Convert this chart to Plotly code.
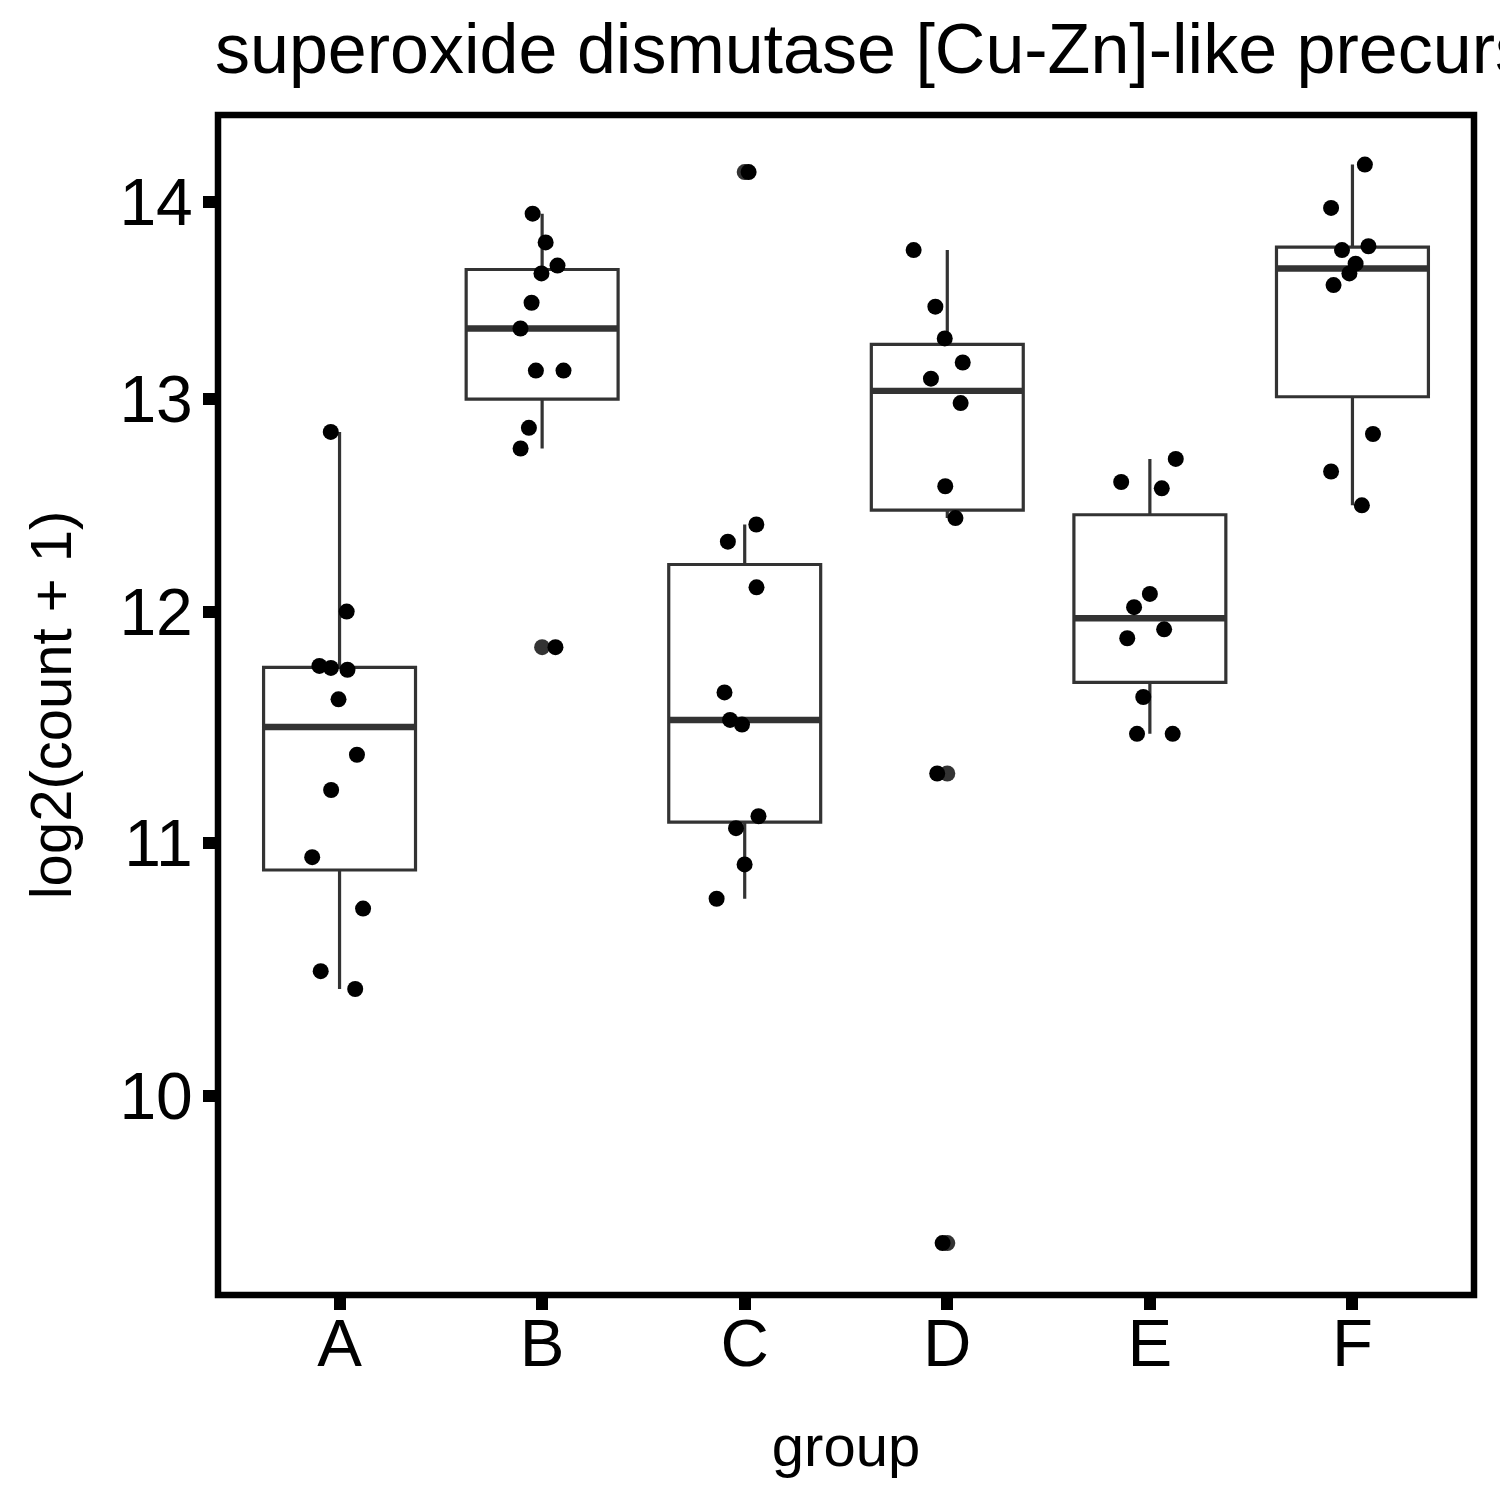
import numpy as np
import plotly.graph_objects as go

# ---- data (log2(count + 1) per sample) ----
categories = ["A", "B", "C", "D", "E", "F"]
group_A = [12.84, 12.00, 11.757, 11.748, 11.74, 11.61, 11.37, 11.22, 10.94, 10.73, 10.48, 10.41]
group_B = [13.94, 13.79, 13.67, 13.63, 13.48, 13.35, 13.14, 13.14, 12.86, 12.76, 11.84]
group_C = [14.16, 12.40, 12.32, 12.11, 11.64, 11.52, 11.50, 11.11, 11.06, 10.91, 10.77]
group_D = [13.75, 13.46, 13.30, 13.18, 13.10, 12.98, 12.58, 12.43, 11.29, 9.46]
group_E = [12.71, 12.60, 12.57, 12.08, 12.02, 11.92, 11.88, 11.62, 11.46, 11.46]
group_F = [14.20, 13.97, 13.77, 13.75, 13.68, 13.63, 13.57, 12.83, 12.65, 12.49]
y_ticks = [10, 11, 12, 13, 14]

groups = [group_A, group_B, group_C, group_D, group_E, group_F]
positions = list(range(len(categories)))

# ---- box statistics on the log10 scale (as ggplot does with a log y scale) ----
q1s, meds, q3s, lfs, ufs = [], [], [], [], []
out_x, out_y = [], []
for i, vals in zip(positions, groups):
    arr = np.array(vals, dtype=float)
    lv = np.log10(arr)
    q1, med, q3 = np.quantile(lv, [0.25, 0.5, 0.75])
    iqr = q3 - q1
    lo, hi = q1 - 1.5 * iqr, q3 + 1.5 * iqr
    inside = lv[(lv >= lo) & (lv <= hi)]
    q1s.append(10 ** q1)
    meds.append(10 ** med)
    q3s.append(10 ** q3)
    lfs.append(10 ** inside.min())
    ufs.append(10 ** inside.max())
    outs = arr[(lv < lo) | (lv > hi)]
    out_x += [i] * len(outs)
    out_y += list(outs)

pts_x = [i for i, vals in zip(positions, groups) for _ in vals]
pts_y = [v for vals in groups for v in vals]

BOX_W = 0.75
GREY = "#333333"
PT = 16

fig = go.Figure()
# boxes + whiskers
fig.add_trace(go.Box(
    x=positions, q1=q1s, median=meds, q3=q3s, lowerfence=lfs, upperfence=ufs,
    width=BOX_W, whiskerwidth=0, boxpoints=False,
    line=dict(color=GREY, width=3.2), fillcolor="white", hoverinfo="skip",
))
# thick median lines
fig.add_trace(go.Box(
    x=positions, q1=meds, median=meds, q3=meds, lowerfence=meds, upperfence=meds,
    width=BOX_W, whiskerwidth=0, boxpoints=False,
    line=dict(color=GREY, width=6.4), fillcolor="rgba(0,0,0,0)", hoverinfo="skip",
))
# boxplot outliers (drawn at the group centre)
if out_y:
    fig.add_trace(go.Box(
        x=out_x, y=out_y, boxpoints="all", jitter=0, pointpos=0, width=BOX_W,
        line=dict(width=0, color="rgba(0,0,0,0)"), fillcolor="rgba(0,0,0,0)",
        marker=dict(color=GREY, size=PT),
    ))
# jittered sample points
fig.add_trace(go.Box(
    x=pts_x, y=pts_y, boxpoints="all", jitter=0.45, pointpos=0, width=BOX_W,
    line=dict(width=0, color="rgba(0,0,0,0)"), fillcolor="rgba(0,0,0,0)",
    marker=dict(color="black", size=PT),
))

FONT = "Liberation Sans, Arial, sans-serif"
fig.update_layout(
    width=1500, height=1500,
    margin=dict(l=218, r=26, t=115, b=205),
    paper_bgcolor="white", plot_bgcolor="white",
    boxmode="overlay", showlegend=False,
    font=dict(family=FONT, color="black"),
    title=dict(
        text="superoxide dismutase [Cu-Zn]-like precursor",
        xref="container", x=215 / 1500, xanchor="left",
        yref="container", y=1 - 48 / 1500, yanchor="middle",
        font=dict(size=70, color="black", family=FONT),
    ),
    shapes=[dict(type="rect", xref="paper", yref="paper", x0=0, x1=1, y0=0, y1=1,
                 line=dict(color="black", width=6.5), layer="above")],
)
fig.update_xaxes(
    range=[-0.6, 5.6], tickmode="array", tickvals=positions, ticktext=categories,
    showgrid=False, zeroline=False, showline=False,
    ticks="outside", ticklen=14, tickwidth=12, tickcolor="black",
    tickfont=dict(size=67, color="black"), ticklabelstandoff=-24,
    title=dict(text="group", font=dict(size=58, color="black"), standoff=45),
)
fig.update_yaxes(
    type="log", range=[0.9674, 1.1604], tickmode="array", tickvals=y_ticks,
    ticktext=[str(t) for t in y_ticks],
    showgrid=False, zeroline=False, showline=False,
    ticks="outside", ticklen=14, tickwidth=12, tickcolor="black",
    tickfont=dict(size=66, color="black"), ticklabelstandoff=-3,
    title=dict(text="log2(count + 1)", font=dict(size=58, color="black"), standoff=29),
)

fig.write_html("out.html", config={"displayModeBar": False},
               post_script="document.body.style.margin='0';")
